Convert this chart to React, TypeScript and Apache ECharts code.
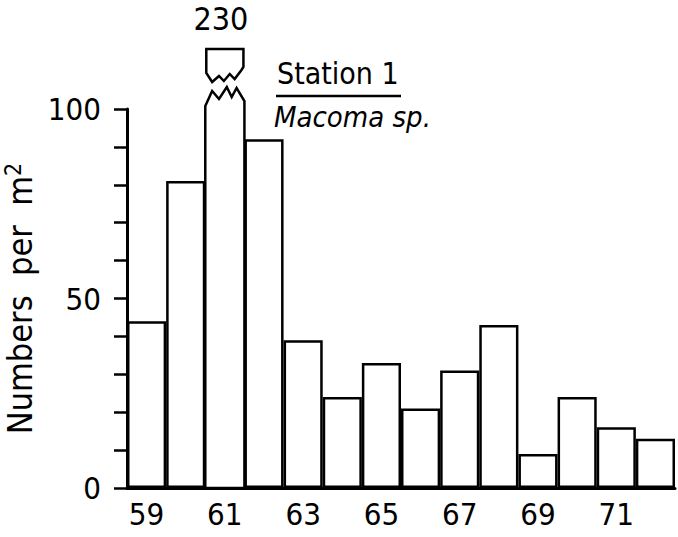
import React, { useEffect, useRef } from "react";
import * as echarts from "echarts";

const years = ["59", "60", "61", "62", "63", "64", "65", "66", "67", "68", "69", "70", "71", "72"];
const values: (number | string)[] = [44, 81, "-", 92, 39, 24, 33, 21, 31, 43, 9, 24, 16, 13];
const brokenBar: [number, number][] = [[2, 230]];
const yTickLabels = [0, 50, 100];
const titleLine1 = "Station 1";
const titleLine2 = "Macoma sp.";

const FONT = "'DejaVu Sans Condensed', 'DejaVu Sans', sans-serif";

export default function App() {
  const ref = useRef<HTMLDivElement>(null);
  useEffect(() => {
    if (!ref.current) return;
    const chart = echarts.init(ref.current, undefined, { renderer: "svg" });
    const option: any = {
      animation: false,
      backgroundColor: "#ffffff",
      grid: { left: 127, right: 3, top: 109, bottom: 49, containLabel: false, outerBoundsMode: "none" },
      xAxis: {
        type: "category",
        data: years,
        boundaryGap: true,
        axisLine: { show: true, lineStyle: { color: "#000", width: 3 } },
        axisTick: { show: false },
        axisLabel: { interval: 1, color: "#000", fontSize: 31, fontFamily: FONT, margin: 10 },
        splitLine: { show: false },
      },
      yAxis: {
        type: "value",
        min: 0,
        max: 100,
        interval: 10,
        name: "Numbers  per  m{sup|2}",
        nameLocation: "middle",
        nameRotate: 90,
        nameGap: 58,
        nameTextStyle: {
          color: "#000",
          fontSize: 34,
          fontFamily: FONT,
          rich: { sup: { fontSize: 23, fontFamily: FONT, color: "#000", verticalAlign: "top", padding: [0, 0, 13, 0] } },
        },
        axisLine: { show: true, lineStyle: { color: "#000", width: 3 } },
        axisTick: { show: true, length: 13, lineStyle: { color: "#000", width: 2.5 } },
        axisLabel: {
          color: "#000",
          fontSize: 31,
          fontFamily: FONT,
          margin: 26,
          formatter: (v: number) => (yTickLabels.indexOf(v) >= 0 ? String(v) : ""),
        },
        splitLine: { show: false },
      },
      graphic: [
        {
          type: "text",
          left: 277,
          top: 58,
          style: { text: titleLine1, fill: "#000", font: `30px ${FONT}` },
        },
        {
          type: "line",
          shape: { x1: 276, y1: 96, x2: 401, y2: 96 },
          style: { stroke: "#000", lineWidth: 2.5 },
        },
        {
          type: "text",
          left: 274,
          top: 102,
          style: { text: titleLine2, fill: "#000", font: `italic 29px ${FONT}` },
        },
      ],
      series: [
        {
          type: "bar",
          data: values,
          barCategoryGap: "0%",
          itemStyle: { color: "#fff", borderColor: "#000", borderWidth: 2.5 },
          z: 2,
        },
        {
          type: "custom",
          data: brokenBar,
          z: 3,
          clip: false,
          renderItem: (params: any, api: any) => {
            const idx = api.value(0);
            const v = api.value(1);
            const base = api.coord([idx, 0]);
            const t = api.coord([idx, 100]);
            const w = api.size([1, 0])[0];
            const L = base[0] - w / 2;
            const y0 = t[1];
            const lower = [
              [L, base[1]],
              [L, y0 - 3],
              [L + 0.175 * w, y0 - 18],
              [L + 0.35 * w, y0 - 10],
              [L + 0.55 * w, y0 - 22],
              [L + 0.675 * w, y0 - 12],
              [L + 0.8 * w, y0 - 21],
              [L + w, y0 - 8],
              [L + w, base[1]],
            ];
            const cap = [
              [L + 1, y0 - 36],
              [L + 1, y0 - 60],
              [L + w - 1, y0 - 60],
              [L + w - 1, y0 - 42],
              [L + 0.925 * w, y0 - 39],
              [L + 0.75 * w, y0 - 30],
              [L + 0.625 * w, y0 - 35],
              [L + 0.475 * w, y0 - 28],
              [L + 0.35 * w, y0 - 33],
              [L + 0.175 * w, y0 - 27],
            ];
            return {
              type: "group",
              children: [
                {
                  type: "polygon",
                  shape: { points: lower },
                  style: { fill: "#fff", stroke: "#000", lineWidth: 2.5, lineJoin: "miter" },
                },
                {
                  type: "polygon",
                  shape: { points: cap },
                  style: { fill: "#fff", stroke: "#000", lineWidth: 2.5, lineJoin: "miter" },
                },
                {
                  type: "text",
                  x: base[0] - 4,
                  y: y0 - 90,
                  style: {
                    text: String(v),
                    fill: "#000",
                    font: `32px ${FONT}`,
                    align: "center",
                    verticalAlign: "middle",
                  },
                },
              ],
            };
          },
        },
      ],
    };
    chart.setOption(option);
    return () => chart.dispose();
  }, []);
  return (
    <div
      ref={ref}
      style={{ position: "fixed", left: 0, top: 0, width: 678, height: 537, background: "#fff" }}
    />
  );
}
